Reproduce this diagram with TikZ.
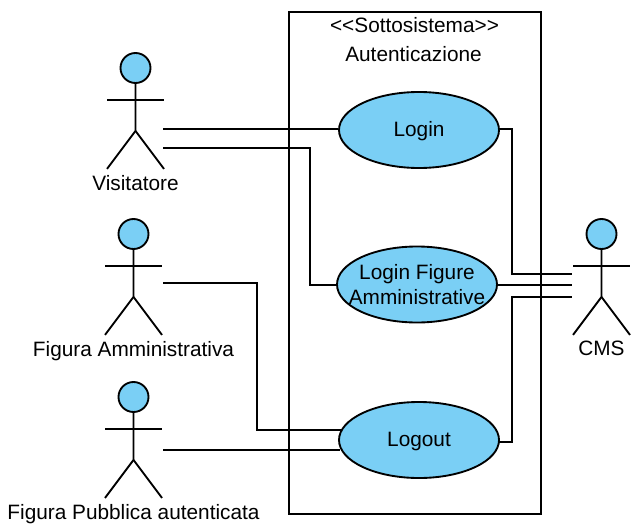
\documentclass[tikz,border=0pt]{standalone}
\usepackage{fontspec}
\setmainfont{Liberation Sans}
\usetikzlibrary{shapes.geometric,calc}
\definecolor{ucblue}{RGB}{122,207,245}
\newcommand{\txtfont}{\fontsize{15.6pt}{18.75pt}\selectfont}
\tikzset{
  px/.style={x=0.75pt,y=-0.75pt},
  line/.style={draw=black,line width=1.4pt},
  usecase/.style={ellipse,line,fill=ucblue,minimum width=120pt,minimum height=57pt,inner sep=-10pt,align=center,font=\txtfont},
  label/.style={inner sep=0pt,font=\txtfont},
  head/.style={circle,line,fill=ucblue,minimum size=22.5pt,inner sep=0pt},
  wire/.style={line}
}
\newcommand{\actor}[5]{% name, cx, heady, label, labely
  \node[head] (#1) at (#2,#3) {};
  \draw[line] (#1.south) -- ++(0,47) coordinate (#1hip) -- ++(-28.5,38);
  \draw[line] (#1hip) -- ++(28.5,38);
  \draw[line] ($(#1.south)+(-28.5,16)$) -- ++(57,0);
  \node[label] (#1label) at (#2,#5) {#4};
}
\begin{document}
\begin{tikzpicture}[px]
\useasboundingbox (0,0) rectangle (641,528);
\node[line,minimum width=189pt,minimum height=376.5pt,inner sep=0pt] (sys) at (415,263) {};
\node[label] (stereo) at (414.5,25) {{<}{<}Sottosistema{>}{>}};
\node[label] (title) at (413.5,54) {Autenticazione};
\actor{vis}{135.5}{68}{Visitatore}{183}
\actor{amm}{133.5}{234}{Figura Amministrativa}{351}
\actor{pub}{133.5}{397}{Figura Pubblica autenticata}{514}
\actor{cms}{601.5}{234}{CMS}{348}
\node[usecase] (login) at (419,130) {\raisebox{-5pt}[0pt][0pt]{Login}};
\node[usecase] (fig) at (417,284.5) {Login Figure\\Amministrative};
\node[usecase] (logout) at (419,440) {\raisebox{-5pt}[0pt][0pt]{Logout}};
\coordinate (a1) at (163,129);
\coordinate (a2) at (163,148);
\coordinate (a3) at (163,283);
\coordinate (a4) at (163,450);
\coordinate (c1) at (572,274);
\coordinate (c2) at (572,285);
\coordinate (c3) at (572,297);
\draw[wire] (a1) -- (login.west |- a1);
\draw[wire] (a2) -- (310,148) -- (310,285) -- (fig.west |- c2);
\draw[wire] (a3) -- (257,283) -- (257,430) -- (341,430);
\draw[wire] (a4) -- (340,450);
\draw[wire] (login.east |- a1) -- (512,129) -- (512,274) -- (c1);
\draw[wire] (fig.east |- c2) -- (c2);
\draw[wire] (498.5,442) -- (512,442) -- (512,297) -- (c3);
\end{tikzpicture}
\end{document}
